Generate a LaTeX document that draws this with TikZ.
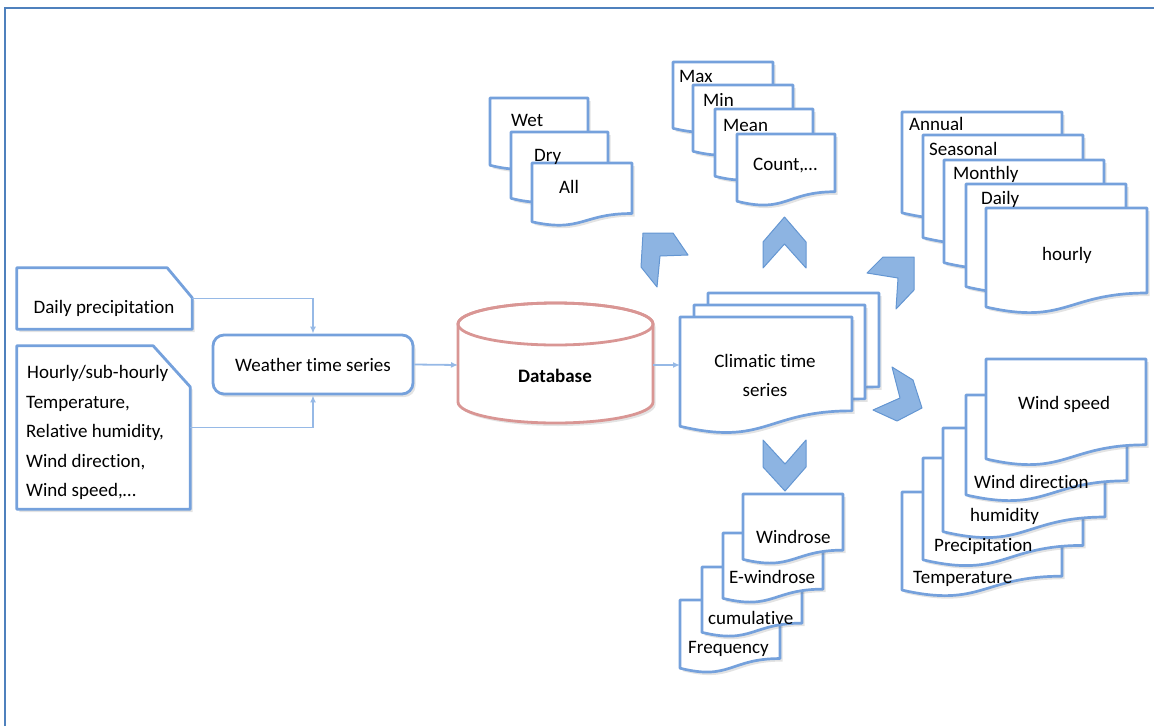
\documentclass[tikz,border=0pt]{standalone}
\usepackage{fontspec}
\setmainfont[Ligatures=NoCommon]{Carlito}
\usetikzlibrary{arrows.meta,shadows}
\definecolor{docblue}{RGB}{117,161,220}
\definecolor{connblue}{RGB}{150,185,230}
\definecolor{chevfill}{RGB}{141,180,226}
\definecolor{chevline}{RGB}{100,150,210}
\definecolor{dbred}{RGB}{217,150,148}
\definecolor{framecol}{RGB}{79,129,189}
\tikzset{
  docstyle/.style={draw=docblue, line width=2.7pt, fill=white, line join=round,
    drop shadow={shadow xshift=2.5pt, shadow yshift=-3pt, opacity=0.22}},
  boxstyle/.style={draw=docblue, line width=2.8pt, fill=white, line join=round,
    drop shadow={shadow xshift=2.5pt, shadow yshift=-3pt, opacity=0.22}},
  lbl/.style={inner sep=0pt, anchor=west, text height=16pt, text depth=2.5pt,
    font=\fontsize{19}{23}\selectfont},
  conn/.style={draw=connblue, line width=1.8pt, -{Latex[length=7pt,width=6pt]}},
  chev/.style={fill=chevfill, draw=chevline, line width=1pt, line join=round},
  dbstyle/.style={draw=dbred, line width=2.8pt, fill=white},
}
\newcommand{\docsheet}[4]{%
  \path[docstyle] (#1,#2) -- ({#1+#3},#2) -- ({#1+#3},{#2+0.802*#4})
    .. controls ({#1+0.5*#3},{#2+0.802*#4}) and ({#1+0.5*#3},{#2+1.107*#4}) ..
    (#1,{#2+0.934*#4}) -- cycle;}
\begin{document}
\begin{tikzpicture}[x=1pt,y=-1pt]
\useasboundingbox (0,0) rectangle (1154,726);
% frame
\draw[framecol, line width=2pt] (5,726) -- (5,8) -- (1154,8);

% input boxes
\node[minimum width=175pt, minimum height=61pt, inner sep=0pt] (daily) at (104.5,298.5) {};
\path[boxstyle] (daily.north west) -- ([xshift=-25pt]daily.north east)
  -- ([yshift=-30pt]daily.north east) -- (daily.south east) -- (daily.south west) -- cycle;
\node[lbl, anchor=center] (dailytxt) at (104,307) {Daily precipitation};

\node[minimum width=173pt, minimum height=163pt, inner sep=0pt] (hourly) at (103.5,427.5) {};
\path[boxstyle] (hourly.north west) -- ([xshift=-37pt]hourly.north east)
  -- ([yshift=-41pt]hourly.north east) -- (hourly.south east) -- (hourly.south west) -- cycle;
\node[lbl] (h1) at (27,372) {Hourly/sub-hourly};
\node[lbl] (h2) at (26,401.5) {Temperature,};
\node[lbl] (h3) at (26,431) {Relative humidity,};
\node[lbl] (h4) at (26,460.5) {Wind direction,};
\node[lbl] (h5) at (26,490) {Wind speed,\dots};

% weather node
\node[boxstyle, rounded corners=11pt, minimum width=200pt, minimum height=59pt,
  inner sep=0pt, font=\fontsize{19}{23}\selectfont] (weather) at (313,364.5) {Weather time series};

\draw[conn] (daily.east) -| (weather.north);
\draw[conn] (hourly.east) -| (weather.south);

% database cylinder
\path[dbstyle, drop shadow={shadow xshift=2.5pt, shadow yshift=-3pt, opacity=0.22}]
  (458,324) -- (458,402) arc[start angle=180, end angle=0, x radius=97.5, y radius=21]
  -- (653,324) arc[start angle=0, end angle=-180, x radius=97.5, y radius=21] -- cycle;
\draw[dbred, line width=2.8pt] (555.5,324) ellipse[x radius=97.5, y radius=21];
\node[lbl, anchor=center, font=\fontsize{19}{23}\selectfont\bfseries] (db) at (555,376) {Database};
\coordinate (dbW) at (458,365);
\coordinate (dbE) at (653,365);
\coordinate (climW) at (680,365);
\draw[conn] (weather.east) -- (dbW);
\draw[conn] (dbE) -- (climW);

% climatic time series stack
\docsheet{708}{293}{171}{117}
\docsheet{694}{305}{171}{117}
\docsheet{680}{317}{172}{117}
\node[inner sep=0pt, align=center, font=\fontsize{19}{29}\selectfont] (clim) at (765,375) {Climatic time\\series};

% chevrons
\path[chev] (763,268) -- (763,242) -- (784.5,217) -- (806,242) -- (806,268) -- (784.5,244) -- cycle;
\path[chev] (763,440) -- (785,464) -- (806,440) -- (806,467) -- (785,491) -- (763,467) -- cycle;
\path[chev] (643,233) -- (673,233) -- (688,255) -- (660,256) -- (657,287) -- (641,267) -- cycle;
\path[chev] (914,257) -- (883,257) -- (867,273) -- (898,278) -- (896,309) -- (914,290) -- cycle;
\path[chev] (892,367) -- (913,380) -- (922,408) -- (897,421) -- (873,410) -- (900,398) -- cycle;

% Wet / Dry / All
\docsheet{490}{98}{98}{72}
\docsheet{511}{132}{97}{71}
\docsheet{532}{163}{100}{63}

% Max / Min / Mean / Count
\docsheet{673}{62}{100}{71}
\docsheet{693}{85}{100}{71}
\docsheet{715}{109}{98}{72}
\docsheet{737}{134}{98}{72}

% Annual ... hourly
\docsheet{902}{112}{160}{108}
\docsheet{923}{135}{160}{110}
\docsheet{944}{160}{160}{110}
\docsheet{966}{184}{160}{110}
\docsheet{986}{208}{161}{106}

% Temperature ... Wind speed
\docsheet{902}{492}{160}{105}
\docsheet{923}{458}{160}{109}
\docsheet{943}{428}{162}{111}
\docsheet{966}{395}{161}{107}
\docsheet{986}{359}{160}{107}

% Frequency ... Windrose
\docsheet{680}{600}{100}{73}
\docsheet{702}{567}{100}{70}
\docsheet{723}{533}{100}{70}
\docsheet{743}{494}{100}{70}

% labels
\node[lbl] (wet) at (511,120) {Wet};
\node[lbl] (dry) at (534,155) {Dry};
\node[lbl] (all) at (559,187) {All};
\node[lbl] (max) at (679,76) {Max};
\node[lbl] (min) at (703,100) {Min};
\node[lbl] (mean) at (723,125) {Mean};
\node[lbl] (count) at (753,164) {Count,\dots};
\node[lbl] (annual) at (909,124) {Annual};
\node[lbl] (seasonal) at (929,149) {Seasonal};
\node[lbl] (monthly) at (953,173) {Monthly};
\node[lbl] (dailyr) at (981,198) {Daily};
\node[lbl] (hourlyr) at (1042,254) {hourly};
\node[lbl] (wspeed) at (1018,403) {Wind speed};
\node[lbl] (wdir) at (974,482) {Wind direction};
\node[lbl] (humid) at (970,515) {humidity};
\node[lbl] (precip) at (934,545) {Precipitation};
\node[lbl] (temp) at (913,577) {Temperature};
\node[lbl] (windrose) at (756,537) {Windrose};
\node[lbl] (ewind) at (729,577) {E-windrose};
\node[lbl] (cumul) at (708,618) {cumulative};
\node[lbl] (freq) at (688,647) {Frequency};
\end{tikzpicture}
\end{document}
